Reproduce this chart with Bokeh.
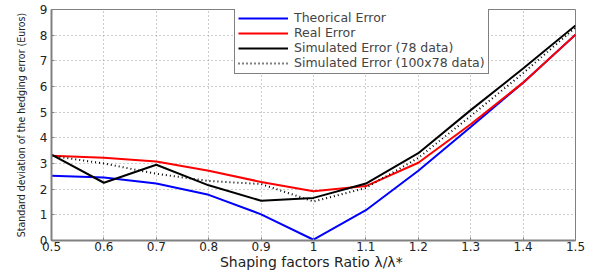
from bokeh.plotting import figure
from bokeh.models import Legend, LegendItem, FixedTicker, Range1d
from bokeh.embed import file_html
from bokeh.resources import INLINE

ratio = [0.5, 0.6, 0.7, 0.8, 0.9, 1.0, 1.1, 1.2, 1.3, 1.4, 1.5]
theorical = [2.52, 2.45, 2.22, 1.78, 1.02, 0.03, 1.18, 2.72, 4.42, 6.15, 8.02]
real = [3.30, 3.22, 3.08, 2.72, 2.28, 1.92, 2.12, 3.03, 4.53, 6.15, 8.02]
sim78 = [3.35, 2.25, 2.95, 2.15, 1.55, 1.66, 2.22, 3.40, 5.08, 6.70, 8.38]
sim100x78 = [3.30, 3.00, 2.60, 2.32, 2.20, 1.52, 2.05, 3.22, 4.85, 6.52, 8.30]
x_ticks = [0.5, 0.6, 0.7, 0.8, 0.9, 1.0, 1.1, 1.2, 1.3, 1.4, 1.5]
y_ticks = [0, 1, 2, 3, 4, 5, 6, 7, 8, 9]
labels = ["Theorical Error", "Real Error", "Simulated Error (78 data)",
          "Simulated Error (100x78 data)"]
x_title = "Shaping factors Ratio  \u03bb/\u03bb*"
y_title = "Standard deviation of the hedging error (Euros)"

p = figure(width=599, height=273, output_backend="svg", toolbar_location=None,
           x_range=Range1d(0.5, 1.5), y_range=Range1d(0, 9),
           min_border_left=51, min_border_right=24, min_border_top=9,
           min_border_bottom=33)
p.background_fill_color = "white"
p.border_fill_color = "white"
p.outline_line_color = "#808080"
p.outline_line_width = 1

r1 = p.line(ratio, theorical, line_color="#0000ff", line_width=2)
r2 = p.line(ratio, real, line_color="#ff0000", line_width=2)
r3 = p.line(ratio, sim78, line_color="black", line_width=2)
r4 = p.line(ratio, sim100x78, line_color="black", line_width=2, line_dash="1 3")

p.xaxis.ticker = FixedTicker(ticks=x_ticks)
p.yaxis.ticker = FixedTicker(ticks=y_ticks)
p.xaxis.major_label_overrides = {1.0: "1"}
for ax in (p.xaxis[0], p.yaxis[0]):
    ax.axis_line_color = "#808080"
    ax.axis_line_width = 2
    ax.major_tick_in = 3
    ax.major_tick_out = 0
    ax.minor_tick_line_color = None
    ax.major_tick_line_color = "#808080"
    ax.major_label_text_font = "DejaVu Sans"
    ax.major_label_text_font_size = "12px"
    ax.major_label_text_color = "#222222"
    ax.axis_label_text_font_style = "normal"
    ax.axis_label_text_color = "#222222"
p.xaxis.major_label_standoff = 1
p.yaxis.major_label_standoff = 4

p.xaxis.axis_label = x_title
p.xaxis.axis_label_text_font = "DejaVu Sans"
p.xaxis.axis_label_text_font_size = "14px"
p.xaxis.axis_label_standoff = 0
p.yaxis.axis_label = y_title
p.yaxis.axis_label_text_font = "DejaVu Sans Condensed"
p.yaxis.axis_label_text_font_size = "10.5px"
p.yaxis.axis_label_standoff = 10

p.xgrid.grid_line_color = "#999999"
p.xgrid.grid_line_dash = "1 3"
p.ygrid.grid_line_color = "#999999"
p.ygrid.grid_line_dash = "1 3"

legend = Legend(items=[LegendItem(label=labels[0], renderers=[r1]),
                       LegendItem(label=labels[1], renderers=[r2]),
                       LegendItem(label=labels[2], renderers=[r3]),
                       LegendItem(label=labels[3], renderers=[r4])],
                location=(183, 166))
legend.label_text_font = "DejaVu Sans"
legend.label_text_font_size = "12.5px"
legend.label_height = 12
legend.glyph_height = 12
legend.glyph_width = 50
legend.label_standoff = 6
legend.spacing = 0
legend.padding = 3
legend.margin = 0
legend.border_line_color = "black"
legend.border_line_width = 1
legend.background_fill_alpha = 1
p.add_layout(legend)

open("out.html", "w").write(file_html(p, INLINE))
